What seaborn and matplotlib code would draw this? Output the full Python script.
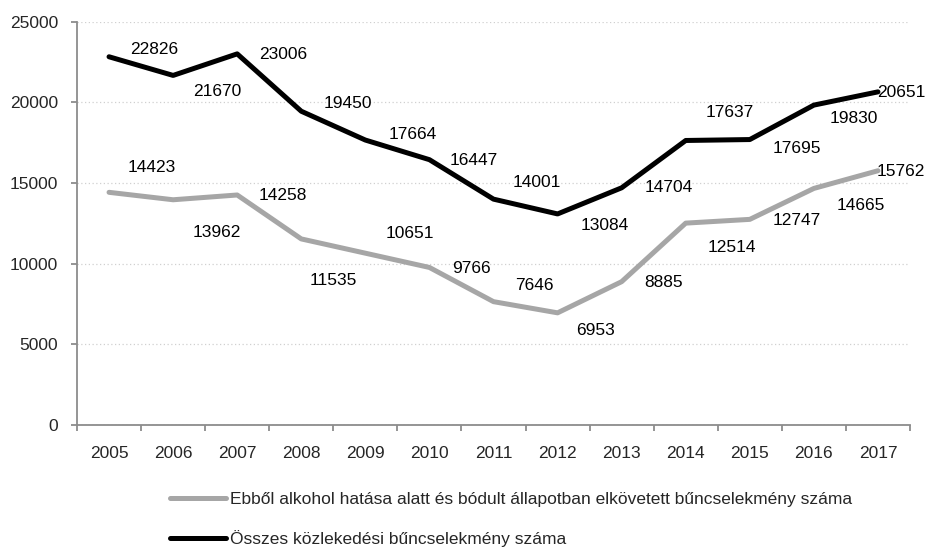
import numpy as np
import pandas as pd
import seaborn as sns
from matplotlib import pyplot as plt
from matplotlib.ticker import FixedLocator

# data
years = list(range(2005, 2018))
total = [22826, 21670, 23006, 19450, 17664, 16447, 14001, 13084, 14704, 17637, 17695, 19830, 20651]
alcohol = [14423, 13962, 14258, 11535, 10651, 9766, 7646, 6953, 8885, 12514, 12747, 14665, 15762]

name_alcohol = "Ebből alkohol hatása alatt és bódult állapotban elkövetett bűncselekmény száma"
name_total = "Összes közlekedési bűncselekmény száma"

# label offsets in pixels (dx right, dy down), placed by hand like in the original
total_offsets = [(45, -7), (44, 16), (46, 1), (47, -8), (47, -6), (44, 1), (43, -17),
                 (47, 12), (47, 0), (44, -28), (47, 9), (40, 13), (23, 1)]
alcohol_offsets = [(43, -25), (44, 33), (46, 1), (32, 42), (45, -20), (42, 1), (41, -16),
                   (38, 18), (42, 1), (46, 24), (47, 1), (47, 17), (23, 1)]

df = pd.DataFrame({
    "year": years * 2,
    "value": alcohol + total,
    "series": [name_alcohol] * len(years) + [name_total] * len(years),
})

sns.set_style("white")
plt.rcParams["font.family"] = ["Liberation Sans", "DejaVu Sans"]
fs = 12.5
axis_grey = "#8c8c8c"

fig = plt.figure(figsize=(9.27, 5.47), dpi=100)
ax = fig.add_axes([77 / 927, 1 - 425 / 547, (910 - 77) / 927, (425 - 21.7) / 547])

sns.lineplot(
    data=df, x="year", y="value", hue="series",
    hue_order=[name_alcohol, name_total],
    palette=["#a6a6a6", "#000000"],
    linewidth=3.6, legend=False, ax=ax,
)
for ln in ax.get_lines():
    ln.set_solid_capstyle("round")
    ln.set_solid_joinstyle("round")

for vals, offs in [(total, total_offsets), (alcohol, alcohol_offsets)]:
    for yr, v, (dx, dy) in zip(years, vals, offs):
        ax.annotate(str(v), (yr, v), xytext=(dx, -dy), textcoords="offset pixels",
                    ha="center", va="center", fontsize=fs, color="black")

ax.set_xlim(2004.5, 2017.5)
ax.set_ylim(0, 25000)
ax.set_yticks(np.arange(0, 25001, 5000))
ax.set_xticks(years)
ax.xaxis.set_minor_locator(FixedLocator([y - 0.5 for y in years] + [2017.5]))
ax.set_xlabel("")
ax.set_ylabel("")

ax.grid(axis="y", linestyle=(0, (1, 2)), color="#d0d0d0", linewidth=0.9)
ax.grid(axis="x", visible=False)
sns.despine(ax=ax)
for side in ["left", "bottom"]:
    ax.spines[side].set_color(axis_grey)
    ax.spines[side].set_linewidth(1.3)

ax.tick_params(axis="y", which="major", length=4.5, width=1.3, color=axis_grey,
               pad=9, labelsize=fs, left=True)
ax.tick_params(axis="x", which="major", length=0, pad=15, labelsize=fs)
ax.tick_params(axis="x", which="minor", length=4.5, width=1.3, color=axis_grey, bottom=True)

handles = ax.get_lines()[:2]
fig.legend(handles, [name_alcohol, name_total], loc="upper left",
           bbox_to_anchor=(170 / 927, 1 - 492 / 547), frameon=False, fontsize=fs,
           handlelength=3.2, handletextpad=0.25, labelspacing=1.3, borderpad=0,
           borderaxespad=0)

fig.savefig("out.png", dpi=100)
